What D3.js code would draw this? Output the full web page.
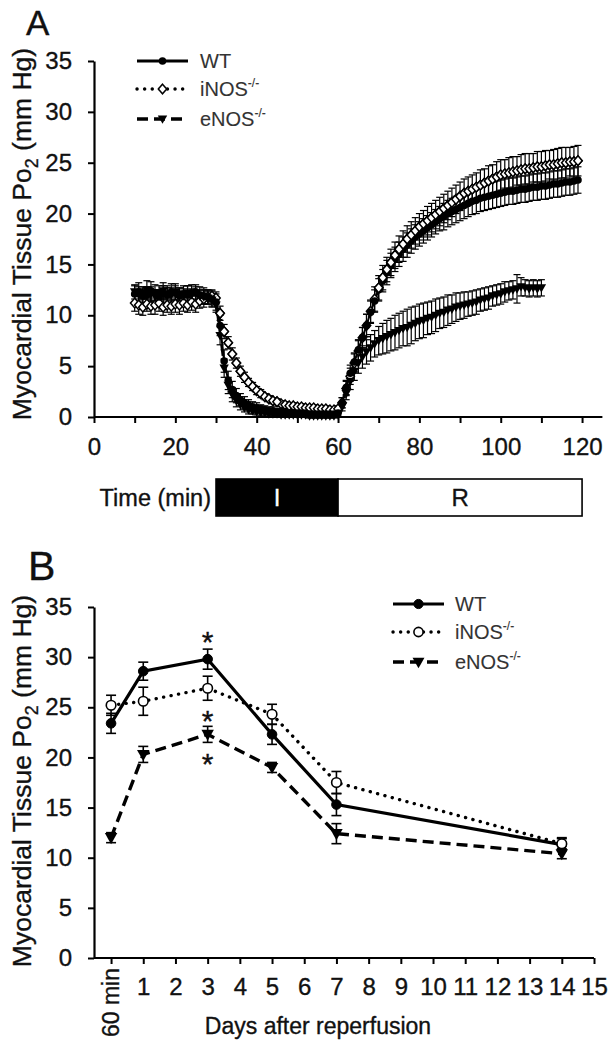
<!DOCTYPE html>
<html><head><meta charset="utf-8">
<script src="https://cdn.jsdelivr.net/npm/d3@7"></script>
<style>
body{margin:0;background:#fff;}
svg{display:block;font-family:"Liberation Sans",Arial,sans-serif;}
svg text{stroke:currentColor;stroke-width:0.35px;}
</style></head>
<body>
<svg id="c" width="609" height="1050"></svg>
<script>
// ---------- Panel A data (time in min, Po2 mm Hg, SE) ----------
const timeWT = d3.range(10, 120);      // 10..119
const timeINOS = d3.range(10, 120);    // 10..119
const timeENOS = d3.range(10, 111);    // 10..110
const wtA = [12.1,12.3,11.9,12.0,12.4,12.2,11.8,12.1,12.0,12.3,12.2,11.9,12.1,12.0,12.2,12.3,12.0,11.9,11.8,11.6,
 11.3,9.0,5.5,3.6,2.7,2.1,1.7,1.4,1.2,1.0,
 0.9,0.8,0.7,0.6,0.6,0.5,0.5,0.5,0.4,0.4,
 0.4,0.4,0.4,0.3,0.3,0.3,0.3,0.3,0.3,0.3,
 0.4,1.4,2.9,4.3,5.4,6.6,7.8,9.0,10.3,11.4,
 12.5,13.4,14.2,14.9,15.5,16.0,16.5,16.9,17.3,17.7,
 18.0,18.3,18.6,18.9,19.2,19.5,19.7,20.0,20.2,20.4,
 20.6,20.8,21.0,21.2,21.3,21.5,21.6,21.7,21.8,21.9,
 22.0,22.1,22.2,22.2,22.3,22.4,22.4,22.5,22.6,22.6,
 22.7,22.7,22.8,22.9,22.9,23.0,23.1,23.1,23.2,23.3];
const wtAse = [0.8,0.9,0.7,0.8,0.9,0.8,0.7,0.8,0.9,0.8,0.7,0.8,0.8,0.9,0.8,0.7,0.8,0.8,0.7,0.8,
 0.8,1.0,1.1,0.9,0.8,0.7,0.6,0.6,0.5,0.5,
 0.5,0.4,0.4,0.4,0.4,0.3,0.3,0.3,0.3,0.3,
 0.3,0.3,0.3,0.3,0.3,0.3,0.3,0.3,0.3,0.3,
 0.3,0.5,0.7,0.8,0.9,1.0,1.0,1.1,1.1,1.1,
 1.1,1.1,1.2,1.2,1.2,1.2,1.2,1.2,1.2,1.2,
 1.2,1.2,1.2,1.2,1.2,1.2,1.3,1.3,1.3,1.3,
 1.3,1.3,1.3,1.3,1.3,1.3,1.3,1.3,1.3,1.3,
 1.3,1.3,1.3,1.3,1.3,1.3,1.3,1.3,1.3,1.3,
 1.3,1.3,1.3,1.3,1.3,1.3,1.3,1.3,1.3,1.3];
const inosA = [11.2,11.0,10.8,11.1,10.9,11.0,11.2,10.8,11.0,10.9,11.1,11.0,11.2,11.0,11.3,11.1,11.4,11.6,11.8,11.9,
 11.7,10.2,8.4,7.3,6.2,5.3,4.5,3.9,3.4,3.0,
 2.6,2.3,2.0,1.8,1.6,1.5,1.3,1.2,1.1,1.1,
 1.0,1.0,0.9,0.9,0.9,0.8,0.8,0.8,0.7,0.7,
 0.8,1.4,2.8,4.0,5.3,6.5,7.8,9.0,10.4,11.6,
 12.7,13.7,14.5,15.2,15.9,16.5,17.0,17.5,17.9,18.3,
 18.7,19.0,19.3,19.6,19.9,20.2,20.5,20.8,21.1,21.4,
 21.7,22.0,22.2,22.4,22.6,22.8,23.0,23.2,23.4,23.6,
 23.8,23.9,24.0,24.1,24.2,24.3,24.4,24.4,24.5,24.6,
 24.6,24.7,24.8,24.8,24.9,25.0,25.0,25.1,25.1,25.2];
const inosAse = [0.8,0.9,0.8,0.7,0.8,0.9,0.8,0.8,0.7,0.8,0.8,0.9,0.8,0.7,0.8,0.8,0.7,0.8,0.7,0.6,
 0.6,0.7,0.7,0.6,0.6,0.5,0.5,0.5,0.4,0.4,
 0.4,0.4,0.3,0.3,0.3,0.3,0.3,0.3,0.3,0.3,
 0.3,0.3,0.3,0.3,0.3,0.3,0.3,0.3,0.3,0.3,
 0.3,0.5,0.7,0.8,0.9,1.0,1.0,1.1,1.1,1.2,
 1.2,1.2,1.2,1.3,1.3,1.3,1.3,1.3,1.3,1.3,
 1.3,1.3,1.4,1.4,1.4,1.4,1.4,1.4,1.4,1.4,
 1.4,1.4,1.4,1.4,1.4,1.5,1.4,1.5,1.4,1.5,
 1.5,1.4,1.5,1.5,1.4,1.5,1.5,1.5,1.4,1.5,
 1.5,1.5,1.4,1.5,1.5,1.5,1.5,1.4,1.5,1.5];
const enosA = [12.3,12.0,12.2,12.5,12.1,11.9,12.2,12.4,12.1,12.0,12.3,12.1,11.9,12.2,12.0,12.1,11.9,11.8,11.7,11.5,
 11.0,8.0,4.8,3.1,2.2,1.6,1.2,0.9,0.7,0.6,
 0.5,0.4,0.4,0.3,0.3,0.3,0.2,0.2,0.2,0.2,
 0.2,0.2,0.2,0.1,0.1,0.1,0.1,0.1,0.1,0.1,
 0.2,1.0,2.3,3.5,4.5,5.3,5.9,6.4,6.8,7.2,
 7.5,7.7,7.9,8.1,8.3,8.5,8.7,8.8,9.0,9.2,
 9.4,9.5,9.7,9.8,10.0,10.2,10.3,10.5,10.6,10.8,
 10.9,11.0,11.1,11.2,11.3,11.5,11.6,11.7,11.9,12.0,
 12.1,12.3,12.4,12.5,12.6,12.8,12.7,12.6,12.7,12.6,
 12.7];
const enosAse = [0.7,0.8,0.6,0.9,0.7,0.6,0.7,0.8,0.6,0.7,0.8,0.6,0.7,0.7,0.6,0.7,0.6,0.7,0.6,0.6,
 0.7,0.9,0.9,0.8,0.7,0.6,0.5,0.4,0.4,0.3,
 0.3,0.3,0.3,0.3,0.2,0.2,0.2,0.2,0.2,0.2,
 0.2,0.2,0.2,0.2,0.2,0.2,0.2,0.2,0.2,0.2,
 0.2,0.4,0.6,0.8,0.9,1.0,1.1,1.2,1.3,1.3,
 1.4,1.5,1.6,1.6,1.7,1.7,1.7,1.8,1.8,1.7,
 1.7,1.7,1.6,1.6,1.6,1.5,1.5,1.5,1.4,1.4,
 1.3,1.3,1.2,1.2,1.2,1.1,1.1,1.1,1.0,1.0,
 1.0,1.0,0.9,0.9,1.4,0.9,0.8,0.8,0.8,0.8,
 0.8];
const ticksA = d3.range(0, 121, 10);
const tickLabelsA = [0, 20, 40, 60, 80, 100, 120];
const phases = [{label:"I", from:30, to:60}, {label:"R", from:60, to:120}];

// ---------- Panel B data (days after reperfusion; 0 = 60 min) ----------
const daysB = [0, 1, 3, 5, 7, 14];
const wtB = [23.4, 28.6, 29.8, 22.3, 15.3, 11.3];
const wtBse = [1.0, 0.9, 1.0, 1.0, 1.1, 0.6];
const inosB = [25.2, 25.6, 26.9, 24.3, 17.5, 11.4];
const inosBse = [1.0, 1.4, 1.2, 1.0, 1.1, 0.6];
const enosB = [12.0, 20.3, 22.3, 19.0, 12.4, 10.4];
const enosBse = [0.5, 0.8, 0.8, 0.5, 1.0, 0.5];
const ticksB = d3.range(0, 16);
const starDay = 3;
const starLevels = [32.2, 24.3, 20.0];

const seriesNames = ["WT", "iNOS", "eNOS"];

// ---------- drawing ----------
const svg = d3.select("#c");
const FONT = '"Liberation Sans",Arial,sans-serif';
const TICKFS = 24;

function drawYTitle(cx, cy, size) {
  const t = svg.append("text")
    .attr("transform", `translate(${cx},${cy}) rotate(-90)`)
    .attr("text-anchor", "middle").attr("font-size", size).attr("fill", "#111").style("color", "#111");
  t.append("tspan").text("Myocardial Tissue Po");
  t.append("tspan").attr("font-size", size*0.68).attr("dy", size*0.25).text("2");
  t.append("tspan").attr("dy", -size*0.25).text(" (mm Hg)");
}

function marker(g, type, x, y, s) {
  if (type === "WT") {
    g.append("circle").attr("cx", x).attr("cy", y).attr("r", s).attr("fill", "#000").attr("stroke", "#000");
  } else if (type === "iNOS") {
    g.append("circle").attr("cx", x).attr("cy", y).attr("r", s).attr("fill", "#fff").attr("stroke", "#000").attr("stroke-width", 1.6);
  } else {
    const w = s*1.3, h = s*1.35;
    g.append("path").attr("d", `M${x-w},${y-h*0.7}L${x+w},${y-h*0.7}L${x},${y+h}Z`).attr("fill", "#000");
  }
}
function markerA(g, type, x, y) {
  if (type === "WT") {
    g.append("circle").attr("cx", x).attr("cy", y).attr("r", 3.8).attr("fill", "#000");
  } else if (type === "iNOS") {
    g.append("path").attr("d", `M${x},${y-4.8}L${x+4.2},${y}L${x},${y+4.8}L${x-4.2},${y}Z`).attr("fill", "#fff").attr("stroke", "#000").attr("stroke-width", 1.5);
  } else {
    g.append("path").attr("d", `M${x-4.7},${y-3.6}L${x+4.7},${y-3.6}L${x},${y+4.8}Z`).attr("fill", "#000");
  }
}

const dashes = {WT: null, iNOS: "0.1,7.5", eNOS: "11,6"};
const caps = {WT: "butt", iNOS: "round", eNOS: "butt"};
const widths = {WT: 3.2, iNOS: 3.4, eNOS: 3.4};

// ===== Panel A =====
const xA = d3.scaleLinear().domain([0, 125]).range([94, 602.4]);
const yA = d3.scaleLinear().domain([0, 35]).range([417, 61]);

svg.append("text").attr("x", 26).attr("y", 35).attr("font-size", 35).attr("fill", "#111").style("color", "#111").text("A");

const gAy = svg.append("g").attr("transform", "translate(94,0)")
  .call(d3.axisLeft(yA).tickValues(d3.range(0, 36, 5)).tickSize(6).tickPadding(16).tickSizeOuter(0));
const gAx = svg.append("g").attr("transform", "translate(0,417)")
  .call(d3.axisBottom(xA).tickValues(ticksA).tickSize(6).tickPadding(15).tickSizeOuter(0)
    .tickFormat(d => tickLabelsA.includes(d) ? d : ""));
[gAy, gAx].forEach(g => {
  g.select(".domain").attr("stroke", "#000").attr("stroke-width", 2.2);
  g.selectAll(".tick line").attr("stroke", "#000").attr("stroke-width", 2);
  g.selectAll(".tick text").attr("font-size", TICKFS).attr("fill", "#111").style("color", "#111").attr("font-family", FONT);
});
gAx.select(".domain").attr("d", `M94,0H${xA(125)}`);

drawYTitle(31, 234, 26.5);

const seriesA = [
  {name: "WT", t: timeWT, v: wtA, e: wtAse},
  {name: "iNOS", t: timeINOS, v: inosA, e: inosAse},
  {name: "eNOS", t: timeENOS, v: enosA, e: enosAse}
];
const gA = svg.append("g");
seriesA.forEach(s => {
  const ge = gA.append("g");
  s.t.forEach((t, i) => {
    const x = xA(t), y1 = yA(s.v[i] + s.e[i]), y2 = yA(s.v[i] - s.e[i]);
    ge.append("line").attr("x1", x).attr("x2", x).attr("y1", y1).attr("y2", y2).attr("stroke", "#000").attr("stroke-width", 1.2);
    ge.append("line").attr("x1", x-3.5).attr("x2", x+3.5).attr("y1", y1).attr("y2", y1).attr("stroke", "#000").attr("stroke-width", 1.2);
    ge.append("line").attr("x1", x-3.5).attr("x2", x+3.5).attr("y1", y2).attr("y2", y2).attr("stroke", "#000").attr("stroke-width", 1.2);
  });
});
seriesA.forEach(s => {
  gA.append("path").datum(s.t.map((t, i) => [t, s.v[i]]))
    .attr("d", d3.line().x(d => xA(d[0])).y(d => yA(d[1])))
    .attr("fill", "none").attr("stroke", "#000").attr("stroke-width", 2)
    .attr("stroke-dasharray", s.name === "iNOS" ? "2,4" : dashes[s.name]);
});
["iNOS", "eNOS", "WT"].forEach(n => {
  const s = seriesA.find(d => d.name === n);
  const gm = gA.append("g");
  s.t.forEach((t, i) => markerA(gm, n, xA(t), yA(s.v[i])));
});
{
  const s = seriesA[1];
  const gm = gA.append("g");
  s.t.forEach((t, i) => { if (t >= 31 && t <= 45 || t >= 70) markerA(gm, "iNOS", xA(t), yA(s.v[i])); });
}

// time bar
const barY = 479, barH = 37;
phases.forEach(p => {
  const col = p.label === "I" ? "#fff" : "#111";
  svg.append("rect").attr("x", xA(p.from)).attr("y", barY).attr("width", xA(p.to) - xA(p.from)).attr("height", barH)
    .attr("fill", p.label === "I" ? "#000" : "#fff").attr("stroke", "#000").attr("stroke-width", 1.6);
  svg.append("text").attr("x", (xA(p.from) + xA(p.to)) / 2).attr("y", barY + barH/2 + 8.5)
    .attr("text-anchor", "middle").attr("font-size", 24).attr("fill", col).style("color", col).text(p.label);
});
svg.append("text").attr("x", xA(30) - 5).attr("y", barY + barH/2 + 8.5).attr("text-anchor", "end")
  .attr("font-size", 23.5).attr("fill", "#111").style("color", "#111").text("Time (min)");

function legend(x0, x1, tx, ys, fs, big) {
  seriesNames.forEach((n, i) => {
    const y = ys[i];
    svg.append("line").attr("x1", x0).attr("x2", x1).attr("y1", y).attr("y2", y)
      .attr("stroke", "#000").attr("stroke-width", widths[n]).attr("stroke-dasharray", dashes[n])
      .attr("stroke-linecap", caps[n]);
    const g = svg.append("g");
    if (big) marker(g, n, (x0 + x1) / 2, y, 4.6); else markerA(g, n, (x0 + x1) / 2, y);
    const t = svg.append("text").attr("x", tx).attr("y", y + 7).attr("font-size", fs)
      .attr("fill", "#333").style("color", "#333").style("stroke-width", "0.1px");
    if (n === "WT") t.text("WT");
    else { t.append("tspan").text(n === "iNOS" ? "iNOS" : "eNOS");
      t.append("tspan").attr("font-size", fs*0.6).attr("dy", -fs*0.45).text("-/-"); }
  });
}
legend(137, 188, 200, [61, 89, 119], 20, false);

// ===== Panel B =====
const xB = d3.scaleLinear().domain([-0.53, 15]).range([94, 594]);
const yB = d3.scaleLinear().domain([0, 35]).range([958, 607]);

svg.append("text").attr("x", 28).attr("y", 580).attr("font-size", 41).attr("fill", "#111").style("color", "#111").text("B");

const gBy = svg.append("g").attr("transform", "translate(94,0)")
  .call(d3.axisLeft(yB).tickValues(d3.range(0, 36, 5)).tickSize(6).tickPadding(16).tickSizeOuter(0));
const gBx = svg.append("g").attr("transform", "translate(0,958)")
  .call(d3.axisBottom(xB).tickValues(ticksB).tickSize(6).tickPadding(14).tickSizeOuter(0)
    .tickFormat(d => d === 0 ? "" : d));
[gBy, gBx].forEach(g => {
  g.select(".domain").attr("stroke", "#000").attr("stroke-width", 2.2);
  g.selectAll(".tick line").attr("stroke", "#000").attr("stroke-width", 2);
  g.selectAll(".tick text").attr("font-size", TICKFS).attr("fill", "#111").style("color", "#111").attr("font-family", FONT);
});
gBx.select(".domain").attr("d", `M94,0H${xB(15)}`);
svg.append("text").attr("transform", `translate(${xB(0) + 8},968) rotate(-90)`)
  .attr("text-anchor", "end").attr("font-size", 23).attr("fill", "#111").style("color", "#111").text("60 min");
svg.append("text").attr("x", 318).attr("y", 1034).attr("text-anchor", "middle")
  .attr("font-size", 23).attr("fill", "#111").style("color", "#111").text("Days after reperfusion");

drawYTitle(31, 781, 26.5);

const seriesB = [
  {name: "WT", v: wtB, e: wtBse},
  {name: "iNOS", v: inosB, e: inosBse},
  {name: "eNOS", v: enosB, e: enosBse}
];
const gB = svg.append("g");
seriesB.forEach(s => {
  daysB.forEach((d, i) => {
    const x = xB(d), y1 = yB(s.v[i] + s.e[i]), y2 = yB(s.v[i] - s.e[i]);
    gB.append("line").attr("x1", x).attr("x2", x).attr("y1", y1).attr("y2", y2).attr("stroke", "#000").attr("stroke-width", 1.6);
    [y1, y2].forEach(yy => gB.append("line").attr("x1", x-5).attr("x2", x+5).attr("y1", yy).attr("y2", yy).attr("stroke", "#000").attr("stroke-width", 1.6));
  });
});
seriesB.forEach(s => {
  gB.append("path").datum(daysB.map((d, i) => [d, s.v[i]]))
    .attr("d", d3.line().x(d => xB(d[0])).y(d => yB(d[1])))
    .attr("fill", "none").attr("stroke", "#000").attr("stroke-width", widths[s.name])
    .attr("stroke-dasharray", dashes[s.name]).attr("stroke-linecap", caps[s.name]);
});
seriesB.forEach(s => {
  daysB.forEach((d, i) => marker(gB, s.name, xB(d), yB(s.v[i]), 4.8));
});
starLevels.forEach(v => {
  svg.append("text").attr("x", xB(starDay)).attr("y", yB(v) + 17).attr("text-anchor", "middle")
    .attr("font-size", 30).attr("fill", "#111").style("color", "#111").text("*");
});

legend(393, 444, 455, [604, 632, 662], 20, true);
</script>
</body></html>
